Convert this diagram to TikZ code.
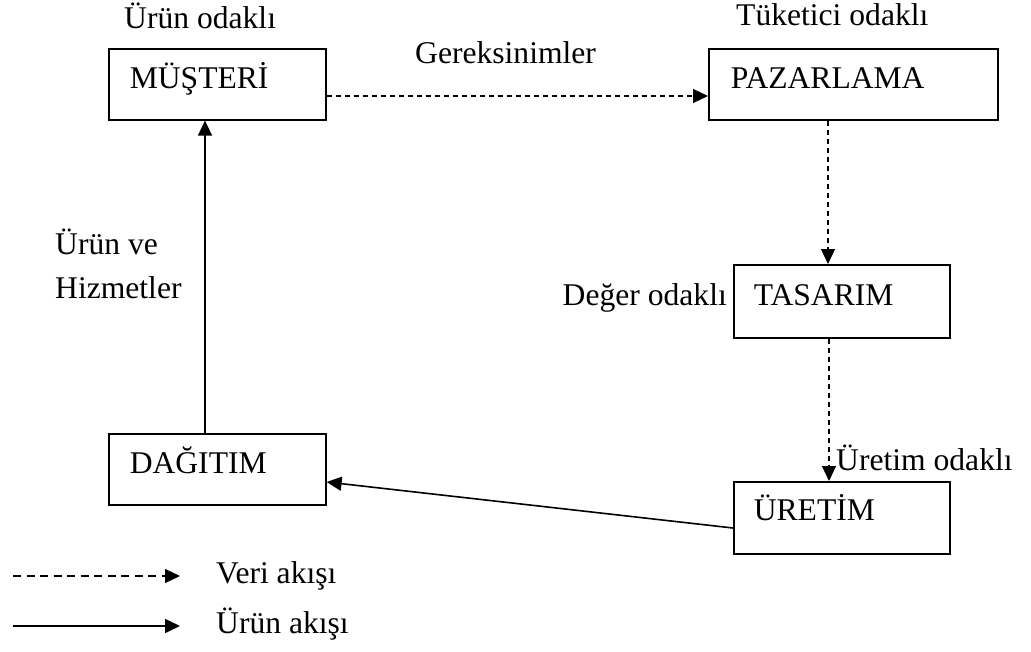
\documentclass[tikz,border=0pt]{standalone}
\usepackage{fontspec}
\setmainfont{Liberation Serif}
\usetikzlibrary{arrows.meta}
\begin{document}
\begin{tikzpicture}[x=1pt,y=-1pt,
  every node/.style={font=\fontsize{31.6}{37}\selectfont, inner sep=0pt},
  box/.style={draw, line width=1.6pt, anchor=north west, align=left,
    inner xsep=#1, inner ysep=0pt},
  lbl/.style={anchor=base west},
  tip/.style={-{Triangle[length=15pt,width=14pt]}},
  data/.style={tip, line width=1.1pt, dash pattern=on 5pt off 4pt},
  legdata/.style={tip, line width=1.1pt, dash pattern=on 8pt off 5.5pt},
  prod/.style={tip, line width=1.6pt}
]
\useasboundingbox (0,0) rectangle (1031,651);
% boxes
\node[box=21pt, text width=175pt, text height=40pt, text depth=31pt] (m) at (108,48) {MÜŞTERİ};
\node[box=22pt, text width=245pt, text height=40pt, text depth=31pt] (p) at (708,48) {PAZARLAMA};
\node[box=20pt, text width=176pt, text height=41pt, text depth=32pt] (t) at (733,264) {TASARIM};
\node[box=20pt, text width=176pt, text height=39pt, text depth=33pt] (u) at (733,481) {ÜRETİM};
\node[box=21pt, text width=175pt, text height=40pt, text depth=31pt] (d) at (108,433) {DAĞITIM};
% labels
\node[lbl] (l1) at (124,28) {Ürün odaklı};
\node[lbl] (l2) at (736,25) {Tüketici odaklı};
\node[lbl] (l3) at (415,63) {Gereksinimler};
\node[anchor=base east] (l4) at (727,305) {Değer odaklı};
\node[lbl] (l5) at (836,470) {Üretim odaklı};
\node[lbl] (l6) at (55,254) {Ürün ve};
\node[lbl] (l7) at (55,298) {Hizmetler};
% connectors
\draw[data] ([yshift=-48pt]m.north east) -- ([yshift=-48pt]p.north west);
\draw[data] ([xshift=120pt]p.south west) -- ([xshift=95pt]t.north west);
\draw[data] ([xshift=96pt]t.south west) -- ([xshift=96pt]u.north west);
\draw[prod] ([yshift=-47pt]u.north west) -- ([yshift=-49pt]d.north east);
\draw[prod] ([xshift=97pt]d.north west) -- ([xshift=97pt]m.south west);
% legend
\coordinate (a1) at (13,576);
\coordinate (a2) at (180,576);
\coordinate (b1) at (13,626);
\coordinate (b2) at (180,626);
\draw[legdata] (a1) -- (a2);
\draw[prod] (b1) -- (b2);
\node[lbl] (v) at (216,583) {Veri akışı};
\node[lbl] (w) at (216,633) {Ürün akışı};
\end{tikzpicture}
\end{document}
